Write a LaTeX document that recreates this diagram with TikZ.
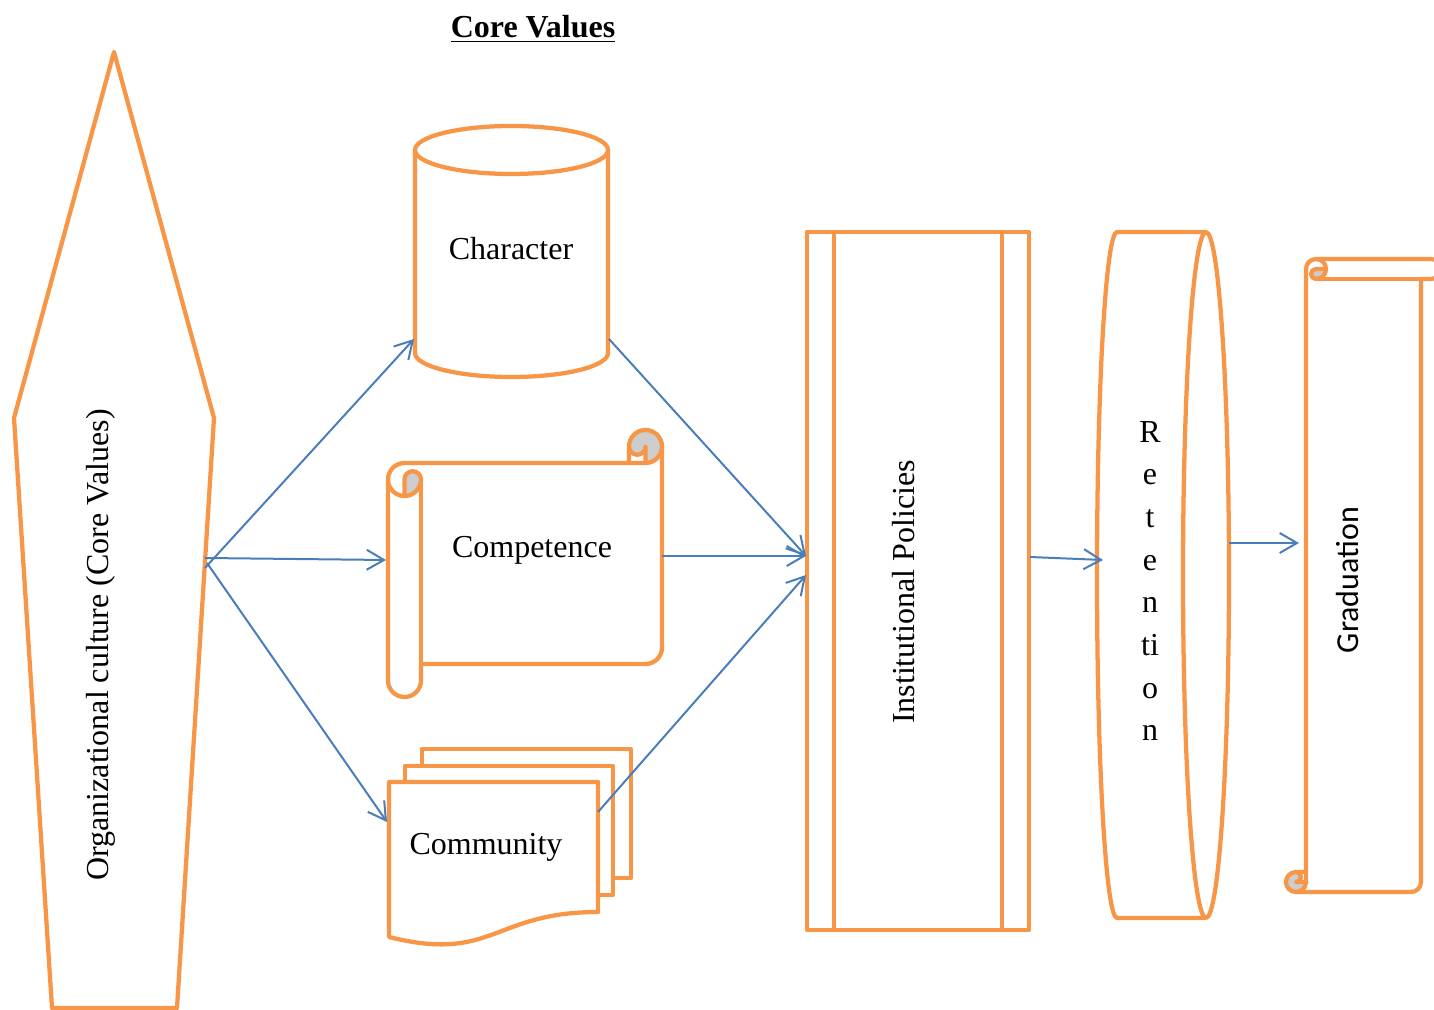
\documentclass[tikz,border=0pt]{standalone}
\usepackage{fontspec}
\setmainfont{Liberation Serif}
\newfontfamily\calibri{Carlito}
\usetikzlibrary{arrows.meta}

\definecolor{accentorange}{HTML}{F79646}
\definecolor{accentblue}{HTML}{4A7EBB}
\definecolor{curlgray}{HTML}{CDCDCD}

\begin{document}
\begin{tikzpicture}[x=0.375pt, y=0.375pt,
    boxline/.style={draw=accentorange, line width=1.6pt, line join=round},
    flow/.style={draw=accentblue, line width=0.75pt, -{Straight Barb[length=6.5pt,width=7.5pt]}},
    txt/.style={font=\fontsize{12}{14}\selectfont, inner sep=0pt}]
    \useasboundingbox (0,0) rectangle (1434,-1010);

    % Title
    \node[txt, font=\fontsize{12}{14}\selectfont\bfseries] (title) at (533,-29) {\underline{Core Values}};

    % Organizational culture
    \draw[boxline] (114,-52) -- (214,-418) -- (177,-1008) -- (52,-1008) -- (14,-418) -- cycle;
    \node[txt, rotate=90] (org) at (101,-645) {Organizational culture (Core Values)};

    % Character (cylinder)
    \draw[boxline] (415,-150) -- (415,-353) arc[start angle=180, end angle=360, x radius=96.5, y radius=24] -- (608,-150);
    \draw[boxline] (511.5,-150) ellipse [x radius=96.5, y radius=24];
    \node[txt] (char) at (511,-249) {Character};

    % Competence (scroll)
    \fill[curlgray] (404.5,-496) arc[start angle=-90, end angle=0, radius=16.5] arc[start angle=0, end angle=180, radius=8.25] -- cycle;
    \fill[curlgray] (645.5,-463) arc[start angle=-90, end angle=180, radius=16.5] arc[start angle=180, end angle=360, radius=8.25] -- cycle;
    \draw[boxline] (388,-479.5) arc[start angle=180, end angle=90, radius=16.5] -- (629,-463) -- (629,-446.5)
        arc[start angle=180, end angle=0, radius=16.5] -- (662,-647.5)
        arc[start angle=0, end angle=-90, radius=16.5] -- (421,-664) -- (421,-680.5)
        arc[start angle=0, end angle=-180, radius=16.5] -- cycle;
    \draw[boxline] (629,-463) -- (645.5,-463) arc[start angle=-90, end angle=0, radius=16.5];
    \draw[boxline] (645.5,-463) -- (645.5,-446.5) arc[start angle=0, end angle=-180, radius=8.25];
    \draw[boxline] (404.5,-496) -- (404.5,-479.5) arc[start angle=180, end angle=0, radius=8.25]
        arc[start angle=0, end angle=-180, radius=16.5];
    \draw[boxline] (421,-479.5) -- (421,-664);
    \node[txt] (comp) at (532,-550) {Competence};

    % Community (multi document)
    \draw[boxline] (422,-766) -- (422,-749) -- (631,-749) -- (631,-878) -- (613,-878);
    \draw[boxline] (405,-782) -- (405,-766) -- (613,-766) -- (613,-895) -- (598,-895);
    \draw[boxline] (389,-782) -- (598,-782) -- (598,-912) .. controls (493,-912) and (493,-963) .. (389,-937) -- cycle;
    \node[txt] (comm) at (486,-847) {Community};

    % Institutional Policies
    \draw[boxline] (807,-232) rectangle (1029,-930);
    \draw[boxline] (834,-232) -- (834,-930) (1002,-232) -- (1002,-930);
    \node[txt, rotate=90] (inst) at (904,-592) {Institutional Policies};

    % Retention (horizontal cylinder)
    \draw[boxline] (1206,-232) -- (1117,-232) arc[start angle=90, end angle=270, x radius=20, y radius=343] -- (1206,-918);
    \draw[boxline] (1206,-575) ellipse [x radius=23, y radius=343];
    \node[txt, align=center, font=\fontsize{12}{16}\selectfont] (ret) at (1150,-581) {R\\e\\t\\e\\n\\ti\\o\\n};

    % Graduation (vertical scroll)
    \fill[curlgray] (1316,-269) -- (1326,-269) arc[start angle=0, end angle=-90, radius=10] arc[start angle=-90, end angle=-270, radius=5] -- cycle;
    \fill[curlgray] (1296,-872) arc[start angle=90, end angle=270, radius=10] arc[start angle=-90, end angle=0, radius=10] -- (1296,-882) arc[start angle=-90, end angle=90, radius=5] -- cycle;
    \draw[boxline] (1306,-872) -- (1306,-269) arc[start angle=180, end angle=90, radius=10] -- (1431,-259)
        arc[start angle=90, end angle=-90, radius=10] -- (1421,-279) -- (1421,-882)
        arc[start angle=0, end angle=-90, radius=10] -- (1296,-892)
        arc[start angle=-90, end angle=-270, radius=10] -- cycle;
    \draw[boxline] (1316,-259) arc[start angle=90, end angle=-90, radius=10] arc[start angle=-90, end angle=-270, radius=5] -- (1326,-269);
    \draw[boxline] (1421,-279) -- (1316,-279);
    \draw[boxline] (1296,-872) arc[start angle=90, end angle=-90, radius=5] -- (1306,-882);
    \draw[boxline] (1296,-892) arc[start angle=-90, end angle=0, radius=10] -- (1306,-872);
    \node[txt, rotate=90, font=\calibri\fontsize{12}{14}\selectfont] (grad) at (1347,-580) {Graduation};

    % Connectors
    \coordinate (org-e1) at (205,-568);
    \coordinate (org-e2) at (205,-558);
    \coordinate (org-e3) at (207,-563);
    \coordinate (char-in) at (414,-339);
    \coordinate (char-out) at (609,-339);
    \coordinate (comp-in) at (386,-560);
    \coordinate (comp-out) at (662,-556);
    \coordinate (comm-in) at (387,-822);
    \coordinate (comm-out) at (598,-812);
    \coordinate (inst-in) at (806,-556);
    \coordinate (inst-in2) at (806,-575);
    \coordinate (inst-out) at (1030,-557);
    \coordinate (ret-in) at (1103,-560);
    \coordinate (ret-out) at (1229,-543);
    \coordinate (grad-in) at (1299,-543);

    \draw[flow] (org-e1) -- (char-in);
    \draw[flow] (org-e2) -- (comp-in);
    \draw[flow] (org-e3) -- (comm-in);
    \draw[flow] (char-out) -- (inst-in);
    \draw[flow] (comp-out) -- (inst-in);
    \draw[flow] (comm-out) -- (inst-in2);
    \draw[flow] (inst-out) -- (ret-in);
    \draw[flow] (ret-out) -- (grad-in);
\end{tikzpicture}
\end{document}
